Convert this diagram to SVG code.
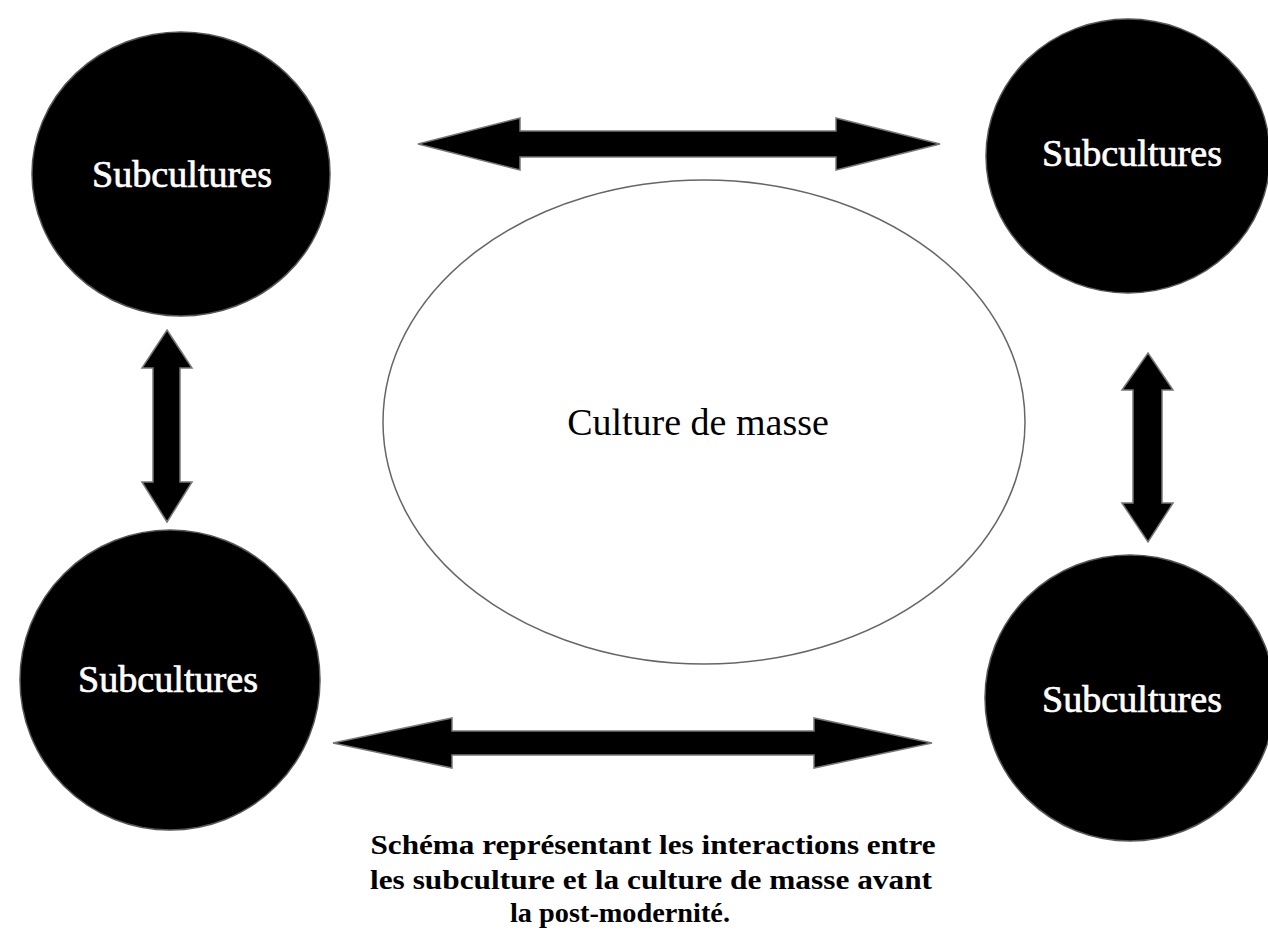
<svg xmlns="http://www.w3.org/2000/svg" width="1268" height="932" viewBox="0 0 1268 932">
<style>
.node{fill:#000;stroke:#555;stroke-width:1.5}
.lbl{font-family:"Liberation Serif","Times New Roman",serif;font-size:38px;text-anchor:middle}
.w{fill:#fff;stroke:#fff;stroke-width:0.7}
.arr{fill:#000;stroke:#777;stroke-width:1.5;stroke-linejoin:miter}
.cap{font-family:"Liberation Serif","Times New Roman",serif;font-size:27px;font-weight:bold;text-anchor:middle;fill:#000}
</style>
<rect width="1268" height="932" fill="#fff"/>
<g id="mass">
<ellipse cx="704" cy="422" rx="321" ry="242" fill="#fff" stroke="#666" stroke-width="1.5"/>
<text class="lbl" x="698" y="435">Culture de masse</text>
</g>
<g id="sub-tl">
<ellipse class="node" cx="181" cy="174" rx="149" ry="142"/>
<text class="lbl w" x="182" y="187" textLength="180" lengthAdjust="spacingAndGlyphs">Subcultures</text>
</g>
<g id="sub-tr">
<ellipse class="node" cx="1128" cy="156" rx="142" ry="137"/>
<text class="lbl w" x="1132" y="166" textLength="180" lengthAdjust="spacingAndGlyphs">Subcultures</text>
</g>
<g id="sub-bl">
<ellipse class="node" cx="170" cy="680" rx="150" ry="150"/>
<text class="lbl w" x="168" y="692" textLength="180" lengthAdjust="spacingAndGlyphs">Subcultures</text>
</g>
<g id="sub-br">
<ellipse class="node" cx="1130" cy="698" rx="145" ry="143"/>
<text class="lbl w" x="1132" y="712" textLength="180" lengthAdjust="spacingAndGlyphs">Subcultures</text>
</g>
<g id="connectors">
<polygon class="arr" points="418,144 520,118 520,131 836,131 836,118 940,144 836,170 836,157 520,157 520,170"/>
<polygon class="arr" points="333,743 452,718 452,731 814,731 814,718 932,743 814,768 814,755 452,755 452,768"/>
<polygon class="arr" points="167,330 192,368 180,368 180,482 192,482 167,522 142,482 153,482 153,368 142,368"/>
<polygon class="arr" points="1148,353 1173,390 1162,390 1162,503 1173,503 1148,542 1122,503 1133,503 1133,390 1122,390"/>
</g>
<g id="caption">
<text class="cap" x="653" y="854" textLength="565" lengthAdjust="spacingAndGlyphs">Schéma représentant les interactions entre</text>
<text class="cap" x="651" y="889" textLength="562" lengthAdjust="spacingAndGlyphs">les subculture et la culture de masse avant</text>
<text class="cap" x="620" y="922" textLength="220" lengthAdjust="spacingAndGlyphs">la post-modernité.</text>
</g>
</svg>
